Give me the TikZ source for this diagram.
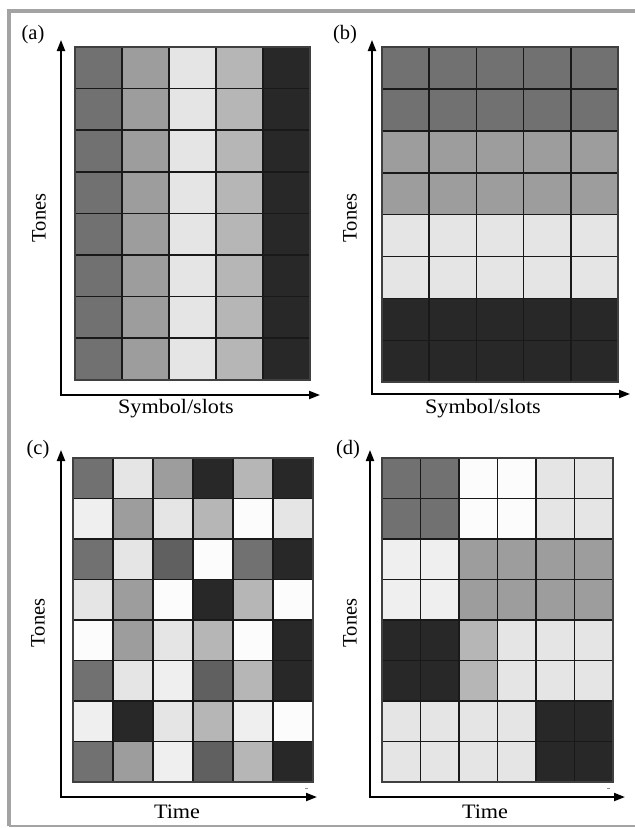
\documentclass[tikz,border=0pt]{standalone}
\usepackage{fontspec}
\setmainfont{Liberation Serif}
\usetikzlibrary{arrows.meta}

% grey levels used for the tone cells
\definecolor{cDD}{HTML}{606060}
\definecolor{cD}{HTML}{717171}
\definecolor{cM}{HTML}{9D9D9D}
\definecolor{cML}{HTML}{B6B6B6}
\definecolor{cL}{HTML}{E5E5E5}
\definecolor{cLL}{HTML}{EFEFEF}
\definecolor{cW}{HTML}{FCFCFC}
\definecolor{cK}{HTML}{282828}
\definecolor{frameGrey}{HTML}{A3A3A3}

\tikzset{
  gridline/.style={line width=1.6pt, draw=black!90},
  gridedge/.style={line width=1.8pt, draw=black!75},
  axisline/.style={line width=2pt, line join=miter,
    {Triangle[length=11pt,width=8pt]}-{Triangle[length=11pt,width=8pt]}},
  lbl/.style={font=\fontsize{20.5}{24}\selectfont, inner sep=0pt},
  hlbl/.style={lbl, xscale=1.08},
  vlbl/.style={lbl, rotate=90},
  tick/.style={line width=1pt, draw=black!45}
}

% fill a block of cells: #1 x0, #2 y0, #3 cell width, #4 cell height,
% #5 rows (top to bottom), each a list of colours (left to right)
\newcommand\tonecells[5]{%
  \foreach \rowcols [count=\r from 0] in {#5} {
    \foreach \cc [count=\k from 0] in \rowcols {
      \fill[\cc] ({#1+\k*#3},{#2+\r*#4}) rectangle ++(#3,#4);
    }
  }%
}
% grid lines: #1 x0, #2 y0, #3 cell width, #4 cell height, #5 columns, #6 rows
\newcommand\tonelines[6]{%
  \foreach \k in {1,...,\numexpr#5-1\relax}
    \draw[gridline] ({#1+\k*#3},#2) -- ({#1+\k*#3},{#2+#6*#4});
  \foreach \r in {1,...,\numexpr#6-1\relax}
    \draw[gridline] (#1,{#2+\r*#4}) -- ({#1+#5*#3},{#2+\r*#4});
  \draw[gridedge] (#1,#2) rectangle ({#1+#5*#3},{#2+#6*#4});
}

\begin{document}
\begin{tikzpicture}[x=1pt,y=-1pt]
\useasboundingbox (0,0) rectangle (635,828);

% outer frame
\draw[frameGrey, line width=4pt] (9,826) -- (9,11) -- (635,11);
\draw[frameGrey, line width=1.2pt] (9,826) -- (635,826);

% ---------- (a) tones per symbol slot ----------
\tonecells{75}{47}{47}{41.6}{
  {cD,cM,cL,cML,cK},{cD,cM,cL,cML,cK},{cD,cM,cL,cML,cK},{cD,cM,cL,cML,cK},
  {cD,cM,cL,cML,cK},{cD,cM,cL,cML,cK},{cD,cM,cL,cML,cK},{cD,cM,cL,cML,cK}}
\tonelines{75}{47}{47}{41.6}{5}{8}
\coordinate (oa) at (61,395);
\coordinate (ya) at (61,40);
\coordinate (xa) at (320,395);
\draw[axisline] (ya) -- (oa) -- (xa);
\node[lbl] (la) at (33,35) {(a)};
\node[vlbl] (ta) at (39,218) {Tones};
\node[hlbl] (sa) at (176,409) {Symbol/slots};

% ---------- (b) tones per tone row ----------
\tonecells{382}{47}{47.2}{41.9}{
  {cD,cD,cD,cD,cD},{cD,cD,cD,cD,cD},{cM,cM,cM,cM,cM},{cM,cM,cM,cM,cM},
  {cL,cL,cL,cL,cL},{cL,cL,cL,cL,cL},{cK,cK,cK,cK,cK},{cK,cK,cK,cK,cK}}
\tonelines{382}{47}{47.2}{41.9}{5}{8}
\coordinate (ob) at (372,394);
\coordinate (yb) at (372,40);
\coordinate (xb) at (630,394);
\draw[axisline] (yb) -- (ob) -- (xb);
\node[lbl] (lb) at (345,35) {(b)};
\node[vlbl] (tb) at (350,218) {Tones};
\node[hlbl] (sb) at (483,409) {Symbol/slots};

% ---------- (c) scattered tones over time ----------
\tonecells{73}{458}{40}{40.5}{
  {cD,cL,cM,cK,cML,cK},
  {cLL,cM,cL,cML,cW,cL},
  {cD,cL,cDD,cW,cD,cK},
  {cL,cM,cW,cK,cML,cW},
  {cW,cM,cL,cML,cW,cK},
  {cD,cL,cLL,cDD,cML,cK},
  {cLL,cK,cL,cML,cLL,cW},
  {cD,cM,cLL,cDD,cML,cK}}
\tonelines{73}{458}{40}{40.5}{6}{8}
\coordinate (oc) at (61,797);
\coordinate (yc) at (61,450);
\coordinate (xc) at (317,797);
\draw[axisline] (yc) -- (oc) -- (xc);
\coordinate (kc1) at (305,788);
\coordinate (kc2) at (308,788);
\draw[tick] (kc1) -- (kc2);
\node[lbl] (lc) at (38,450) {(c)};
\node[vlbl] (tc) at (38,623) {Tones};
\node[hlbl] (sc) at (177,812) {Time};

% ---------- (d) block-wise tones over time ----------
\tonecells{382}{458}{38.5}{40.5}{
  {cD,cD,cW,cW,cL,cL},
  {cD,cD,cW,cW,cL,cL},
  {cLL,cLL,cM,cM,cM,cM},
  {cLL,cLL,cM,cM,cM,cM},
  {cK,cK,cML,cL,cL,cL},
  {cK,cK,cML,cL,cL,cL},
  {cL,cL,cL,cL,cK,cK},
  {cL,cL,cL,cL,cK,cK}}
\tonelines{382}{458}{38.5}{40.5}{6}{8}
\coordinate (od) at (370,797);
\coordinate (yd) at (370,450);
\coordinate (xd) at (625,797);
\draw[axisline] (yd) -- (od) -- (xd);
\coordinate (kd1) at (607,788);
\coordinate (kd2) at (610,788);
\draw[tick] (kd1) -- (kd2);
\node[lbl] (ld) at (348,450) {(d)};
\node[vlbl] (td) at (350,623) {Tones};
\node[hlbl] (sd) at (485,812) {Time};
\end{tikzpicture}
\end{document}
